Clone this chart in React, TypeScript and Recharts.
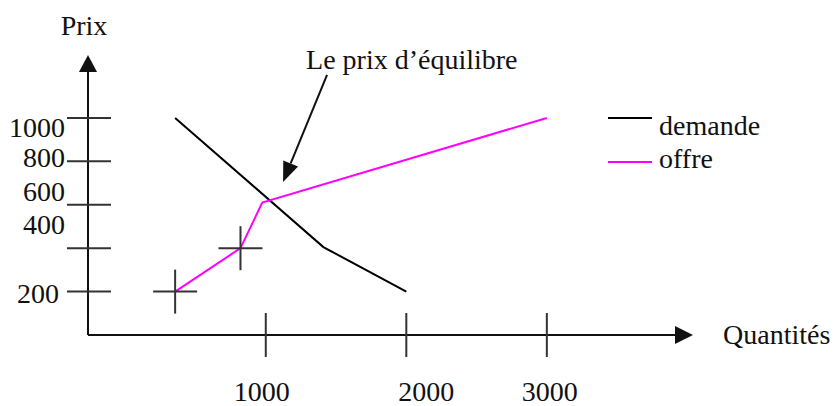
import React from 'react';
import { LineChart, Line, XAxis, YAxis, ReferenceLine, ReferenceDot, Legend } from 'recharts';

// axes
const qtyTicks = [1000, 2000, 3000];
const priceTicks = [200, 400, 600, 800, 1000];

// courbe de demande
const demandeQ = [355, 1410, 2000];
const demandeP = [1000, 405, 200];

// courbe d'offre
const offreQ = [355, 820, 975, 3000];
const offreP = [200, 400, 610, 1000];

// points marqués d'une croix
const croixQ = [355, 820];
const croixP = [200, 400];

// flèche "Le prix d'équilibre"
const flecheQ = [1436, 1123];
const flecheP = [1198, 705];

const demandeData = demandeQ.map((q, i) => ({ q, p: demandeP[i] }));
const offreData = offreQ.map((q, i) => ({ q, p: offreP[i] }));

const X_MIN = -265;
const X_MAX = 4040;
const Y_MAX = 1290;

const FONT = '"Liberation Serif", "Times New Roman", serif';
const INK = '#111';

// the scanned labels sit a little off their ticks
const yLabelNudge: Record<number, [number, number]> = {
  1000: [0, 19],
  800: [0, 6],
  600: [0, -4],
  400: [0, -14],
  200: [-6, 11],
};
const xLabelNudge: Record<number, number> = { 1000: -4, 2000: 20, 3000: 3 };
const legendTextDy = [17, 6];

const PriceTick = (props: any) => {
  const { x, y, payload } = props;
  const [dx, dy] = yLabelNudge[payload.value] || [0, 9];
  return (
    <g>
      <line x1={x - 21} x2={x + 23} y1={y} y2={y} stroke="#333" strokeWidth={2} />
      <text x={x - 23 + dx} y={y + dy} textAnchor="end" fontFamily={FONT} fontSize={28} fill={INK}>
        {payload.value}
      </text>
    </g>
  );
};

const QtyTick = (props: any) => {
  const { x, y, payload } = props;
  const dx = xLabelNudge[payload.value] || 0;
  return (
    <g>
      <line x1={x} x2={x} y1={y - 22} y2={y + 22} stroke="#333" strokeWidth={2} />
      <text x={x + dx} y={y + 66} textAnchor="middle" fontFamily={FONT} fontSize={28} fill={INK}>
        {payload.value}
      </text>
    </g>
  );
};

const VerticalArrowAxis = (props: any) => {
  const x = props.x1;
  const top = Math.min(props.y1, props.y2);
  const bottom = Math.max(props.y1, props.y2);
  return (
    <g>
      <line x1={x} x2={x} y1={bottom} y2={top + 16} stroke={INK} strokeWidth={2} />
      <polygon points={`${x},${top} ${x - 9},${top + 17} ${x + 9},${top + 17}`} fill={INK} />
    </g>
  );
};

const HorizontalArrowAxis = (props: any) => {
  const y = props.y1;
  const left = Math.min(props.x1, props.x2);
  const right = Math.max(props.x1, props.x2);
  return (
    <g>
      <line x1={left} x2={right - 16} y1={y} y2={y} stroke={INK} strokeWidth={2} />
      <polygon points={`${right},${y} ${right - 18},${y - 9} ${right - 18},${y + 9}`} fill={INK} />
    </g>
  );
};

const EquilibreArrow = (props: any) => {
  const { x1, y1, x2, y2 } = props;
  const len = Math.hypot(x2 - x1, y2 - y1);
  const ux = (x2 - x1) / len;
  const uy = (y2 - y1) / len;
  const bx = x2 - ux * 20;
  const by = y2 - uy * 20;
  const px = -uy * 8;
  const py = ux * 8;
  return (
    <g>
      <line x1={x1} y1={y1} x2={bx} y2={by} stroke={INK} strokeWidth={2} />
      <polygon points={`${x2},${y2} ${bx + px},${by + py} ${bx - px},${by - py}`} fill={INK} />
      <text x={x1 - 21} y={y1 - 6} fontFamily={FONT} fontSize={28} fill={INK}>
        Le prix d’équilibre
      </text>
    </g>
  );
};

const Croix = (props: any) => {
  const { cx, cy } = props;
  return (
    <g>
      <line x1={cx - 22} x2={cx + 22} y1={cy} y2={cy} stroke="#333" strokeWidth={2} />
      <line x1={cx} x2={cx} y1={cy - 22} y2={cy + 22} stroke="#333" strokeWidth={2} />
    </g>
  );
};

const renderLegend = (props: any) => {
  const payload = props.payload || [];
  return (
    <svg width={230} height={80} style={{ display: 'block', overflow: 'visible' }}>
      {payload.map((entry: any, i: number) => {
        const ly = 18 + i * 44;
        return (
          <g key={entry.value}>
            <line x1={8} x2={52} y1={ly} y2={ly} stroke={entry.color} strokeWidth={2} />
            <text x={59} y={ly + legendTextDy[i]} fontFamily={FONT} fontSize={28} fill={INK}>
              {entry.value}
            </text>
          </g>
        );
      })}
    </svg>
  );
};

export default function App() {
  return (
    <div style={{ position: 'absolute', left: 0, top: 0, width: 836, height: 406, background: '#fff' }}>
      <LineChart width={836} height={406} margin={{ top: 55, right: 143, bottom: 0, left: 0 }}>
        <XAxis
          type="number"
          dataKey="q"
          domain={[X_MIN, X_MAX]}
          ticks={qtyTicks}
          interval={0}
          height={71}
          axisLine={false}
          tickLine={false}
          tickSize={0}
          tickMargin={0}
          tick={<QtyTick />}
          allowDataOverflow
          label={(p: any) => (
            <text
              x={p.viewBox.x + p.viewBox.width + 30}
              y={p.viewBox.y + 9}
              fontFamily={FONT}
              fontSize={28}
              fill={INK}
            >
              Quantités
            </text>
          )}
        />
        <YAxis
          type="number"
          domain={[0, Y_MAX]}
          ticks={priceTicks}
          interval={0}
          width={88}
          axisLine={false}
          tickLine={false}
          tickSize={0}
          tickMargin={0}
          tick={<PriceTick />}
          allowDataOverflow
          label={(p: any) => (
            <text
              x={p.viewBox.x + p.viewBox.width - 4}
              y={p.viewBox.y - 20}
              textAnchor="middle"
              fontFamily={FONT}
              fontSize={28}
              fill={INK}
            >
              Prix
            </text>
          )}
        />
        <ReferenceLine x={X_MIN} ifOverflow="visible" shape={VerticalArrowAxis} />
        <ReferenceLine y={0} ifOverflow="visible" shape={HorizontalArrowAxis} />
        <Line
          data={demandeData}
          dataKey="p"
          name="demande"
          type="linear"
          stroke="#000"
          strokeWidth={2}
          dot={false}
          isAnimationActive={false}
        />
        <Line
          data={offreData}
          dataKey="p"
          name="offre"
          type="linear"
          stroke="#ff00ff"
          strokeWidth={2}
          dot={false}
          isAnimationActive={false}
        />
        {croixQ.map((q, i) => (
          <ReferenceDot key={q} x={q} y={croixP[i]} ifOverflow="visible" shape={Croix} />
        ))}
        <ReferenceLine
          segment={[
            { x: flecheQ[0], y: flecheP[0] },
            { x: flecheQ[1], y: flecheP[1] },
          ]}
          ifOverflow="visible"
          shape={EquilibreArrow}
        />
        <Legend
          layout="horizontal"
          verticalAlign="middle"
          align="center"
          content={renderLegend}
          wrapperStyle={{ left: 600, top: 100, width: 230 }}
        />
      </LineChart>
    </div>
  );
}
